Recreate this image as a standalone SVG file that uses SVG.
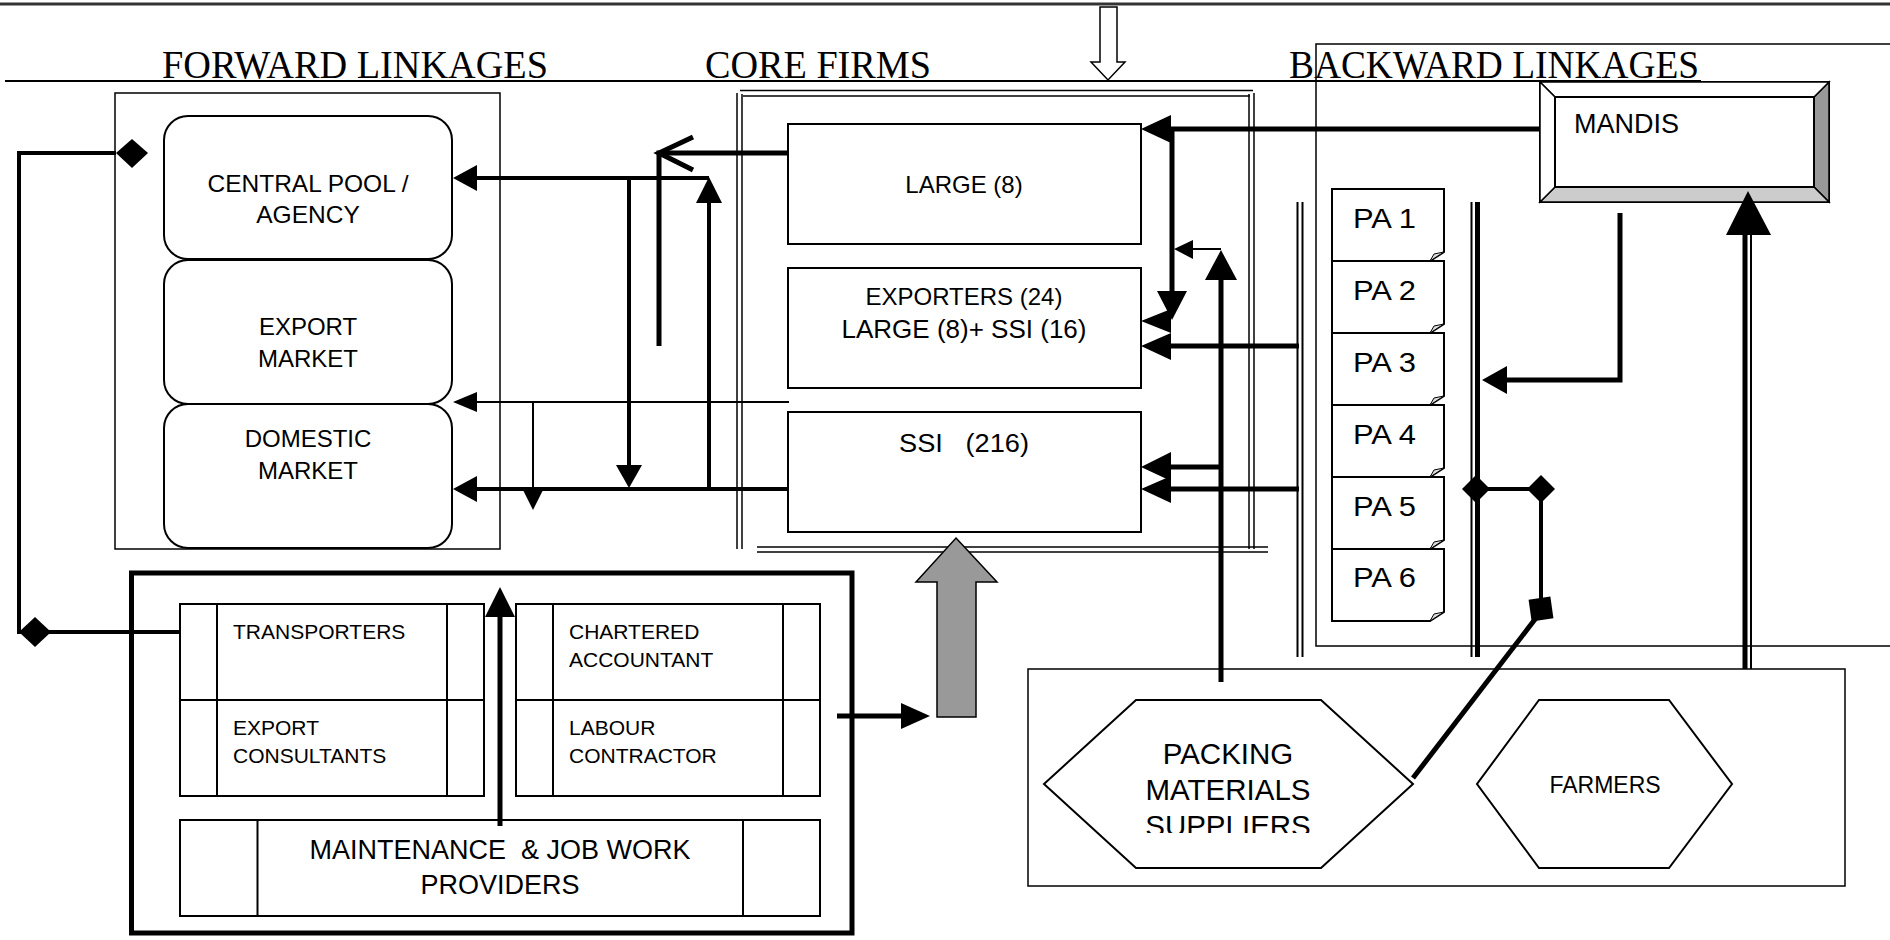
<svg xmlns="http://www.w3.org/2000/svg" width="1890" height="940" viewBox="0 0 1890 940">
<style>
.title{font-family:"Liberation Serif","Times New Roman",serif;font-size:40px;fill:#000}
.lbl{font-family:"Liberation Sans",Arial,sans-serif;fill:#000}
.box{fill:#fff;stroke:#000;stroke-width:2}
.thin{fill:none;stroke:#000;stroke-width:1.5}
.c2{fill:none;stroke:#000;stroke-width:2}
.c4{fill:none;stroke:#000;stroke-width:4}
.c5{fill:none;stroke:#000;stroke-width:5}
.ah{fill:#000;stroke:none}
</style>
<defs>
<clipPath id="packClip"><rect x="1080" y="700" width="300" height="133"/></clipPath>
</defs>
<rect width="1890" height="940" fill="#fff"/>

<!-- page lines -->
<line x1="0" y1="4" x2="1890" y2="4" stroke="#333" stroke-width="3"/>
<line x1="5" y1="81" x2="1701" y2="81" stroke="#000" stroke-width="2"/>
<polygon points="1100,7 1117,7 1117,62 1125,62 1108,80 1091,62 1100,62" fill="#fff" stroke="#000" stroke-width="1.5"/>

<text class="title" x="162" y="78" textLength="386" lengthAdjust="spacingAndGlyphs">FORWARD LINKAGES</text>
<text class="title" x="705" y="78" textLength="226" lengthAdjust="spacingAndGlyphs">CORE FIRMS</text>
<text class="title" x="1289" y="78" textLength="410" lengthAdjust="spacingAndGlyphs">BACKWARD LINKAGES</text>

<!-- forward linkages -->
<g id="forward-linkages">
<rect x="115" y="93" width="385" height="456" class="thin" fill="none"/>
<g id="central-pool">
<rect x="164" y="116" width="288" height="143" rx="24" ry="24" class="box"/>
<text class="lbl" font-size="24.5" text-anchor="middle" x="308" y="192">CENTRAL POOL /</text>
<text class="lbl" font-size="24.5" text-anchor="middle" x="308" y="223">AGENCY</text>
</g>
<g id="export-market">
<rect x="164" y="260" width="288" height="144" rx="24" ry="24" class="box"/>
<text class="lbl" font-size="24" text-anchor="middle" x="308" y="335">EXPORT</text>
<text class="lbl" font-size="24" text-anchor="middle" x="308" y="367">MARKET</text>
</g>
<g id="domestic-market">
<rect x="164" y="404" width="288" height="144" rx="24" ry="24" class="box"/>
<text class="lbl" font-size="24" text-anchor="middle" x="308" y="447">DOMESTIC</text>
<text class="lbl" font-size="24" text-anchor="middle" x="308" y="479">MARKET</text>
</g>
</g>

<!-- core firms -->
<g id="core-firms">
<line x1="740" y1="90.5" x2="1253" y2="90.5" class="thin"/>
<line x1="743" y1="96" x2="1250" y2="96" class="thin"/>
<line x1="737" y1="93" x2="737" y2="549" class="thin"/>
<line x1="742" y1="94" x2="742" y2="549" class="thin"/>
<line x1="1249" y1="94" x2="1249" y2="549" class="thin"/>
<line x1="1254" y1="93" x2="1254" y2="549" class="thin"/>
<line x1="757" y1="547" x2="1268" y2="547" class="thin"/>
<line x1="757" y1="552" x2="1268" y2="552" class="thin"/>
<g id="large">
<rect x="788" y="124" width="353" height="120" class="box"/>
<text class="lbl" font-size="24" text-anchor="middle" x="964" y="193">LARGE (8)</text>
</g>
<g id="exporters">
<rect x="788" y="268" width="353" height="120" class="box"/>
<text class="lbl" font-size="24" text-anchor="middle" x="964" y="305">EXPORTERS (24)</text>
<text class="lbl" font-size="25" text-anchor="middle" x="964" y="338" textLength="245" lengthAdjust="spacingAndGlyphs">LARGE (8)+ SSI (16)</text>
</g>
<g id="ssi">
<rect x="788" y="412" width="353" height="120" class="box"/>
<text class="lbl" font-size="25.5" text-anchor="middle" x="964" y="452" xml:space="preserve" style="white-space:pre" textLength="130" lengthAdjust="spacingAndGlyphs">SSI   (216)</text>
</g>
</g>

<!-- backward linkages -->
<g id="backward-linkages">
<polyline points="1890,44 1316,44 1316,646 1890,646" class="thin"/>
<g id="mandis">
<rect x="1540" y="82" width="289" height="120" fill="#fff" stroke="#000" stroke-width="2"/>
<polygon points="1829,82 1829,202 1814,187 1814,97" fill="#999" stroke="#000" stroke-width="1.5"/>
<polygon points="1540,202 1829,202 1814,187 1555,187" fill="#ccc" stroke="#000" stroke-width="1.5"/>
<polygon points="1540,82 1829,82 1814,97 1555,97" fill="#fff" stroke="#000" stroke-width="1.5"/>
<polygon points="1540,82 1555,97 1555,187 1540,202" fill="#fff" stroke="#000" stroke-width="1.5"/>
<rect x="1555" y="97" width="259" height="90" fill="#fff" stroke="#000" stroke-width="2"/>
<text class="lbl" font-size="27" x="1574" y="133">MANDIS</text>
</g>
<g id="pa1"><path d="M1332,189 H1444 V252 L1430,261 H1332 Z" class="box" stroke-width="1.5"/><polygon points="1430,261 1434,254 1444,252" fill="#ddd" stroke="#000" stroke-width="1"/><text class="lbl" font-size="28" x="1353" y="228" textLength="63" lengthAdjust="spacingAndGlyphs">PA 1</text></g>
<g id="pa2"><path d="M1332,261 H1444 V324 L1430,333 H1332 Z" class="box" stroke-width="1.5"/><polygon points="1430,333 1434,326 1444,324" fill="#ddd" stroke="#000" stroke-width="1"/><text class="lbl" font-size="28" x="1353" y="300" textLength="63" lengthAdjust="spacingAndGlyphs">PA 2</text></g>
<g id="pa3"><path d="M1332,333 H1444 V396 L1430,405 H1332 Z" class="box" stroke-width="1.5"/><polygon points="1430,405 1434,398 1444,396" fill="#ddd" stroke="#000" stroke-width="1"/><text class="lbl" font-size="28" x="1353" y="372" textLength="63" lengthAdjust="spacingAndGlyphs">PA 3</text></g>
<g id="pa4"><path d="M1332,405 H1444 V468 L1430,477 H1332 Z" class="box" stroke-width="1.5"/><polygon points="1430,477 1434,470 1444,468" fill="#ddd" stroke="#000" stroke-width="1"/><text class="lbl" font-size="28" x="1353" y="444" textLength="63" lengthAdjust="spacingAndGlyphs">PA 4</text></g>
<g id="pa5"><path d="M1332,477 H1444 V540 L1430,549 H1332 Z" class="box" stroke-width="1.5"/><polygon points="1430,549 1434,542 1444,540" fill="#ddd" stroke="#000" stroke-width="1"/><text class="lbl" font-size="28" x="1353" y="516" textLength="63" lengthAdjust="spacingAndGlyphs">PA 5</text></g>
<g id="pa6"><path d="M1332,549 H1444 V612 L1430,621 H1332 Z" class="box" stroke-width="1.5"/><polygon points="1430,621 1434,614 1444,612" fill="#ddd" stroke="#000" stroke-width="1"/><text class="lbl" font-size="28" x="1353" y="587" textLength="63" lengthAdjust="spacingAndGlyphs">PA 6</text></g>
</g>

<!-- suppliers -->
<g id="suppliers">
<rect x="1028" y="669" width="817" height="217" class="thin" fill="none"/>
<g id="packing-materials">
<polygon points="1136,700 1321,700 1413,784 1321,868 1136,868 1044,784" class="box" stroke-width="1.5"/>
<g clip-path="url(#packClip)">
<text class="lbl" font-size="29.5" text-anchor="middle" x="1228" y="764">PACKING</text>
<text class="lbl" font-size="29.5" text-anchor="middle" x="1228" y="800">MATERIALS</text>
<text class="lbl" font-size="29.5" text-anchor="middle" x="1228" y="836">SUPPLIERS</text>
</g>
</g>
<g id="farmers">
<polygon points="1539,700 1669,700 1732,784 1669,868 1539,868 1477,784" class="box" stroke-width="1.5"/>
<text class="lbl" font-size="23" text-anchor="middle" x="1605" y="793">FARMERS</text>
</g>
</g>

<!-- services -->
<g id="services">
<rect x="131.5" y="573" width="720.5" height="360" fill="none" stroke="#000" stroke-width="5"/>
<g id="transporters-export-consultants">
<rect x="180" y="604" width="304" height="192" class="box"/>
<line x1="180" y1="700" x2="484" y2="700" class="c2"/>
<line x1="217" y1="604" x2="217" y2="796" class="c2"/>
<line x1="447" y1="604" x2="447" y2="796" class="c2"/>
<text class="lbl" font-size="21" x="233" y="639">TRANSPORTERS</text>
<text class="lbl" font-size="21" x="233" y="735">EXPORT</text>
<text class="lbl" font-size="21" x="233" y="763">CONSULTANTS</text>
</g>
<g id="chartered-labour">
<rect x="516" y="604" width="304" height="192" class="box"/>
<line x1="516" y1="700" x2="820" y2="700" class="c2"/>
<line x1="553" y1="604" x2="553" y2="796" class="c2"/>
<line x1="783" y1="604" x2="783" y2="796" class="c2"/>
<text class="lbl" font-size="21" x="569" y="639">CHARTERED</text>
<text class="lbl" font-size="21" x="569" y="667">ACCOUNTANT</text>
<text class="lbl" font-size="21" x="569" y="735">LABOUR</text>
<text class="lbl" font-size="21" x="569" y="763">CONTRACTOR</text>
</g>
<g id="maintenance">
<rect x="180" y="820" width="640" height="96" class="box"/>
<line x1="257.5" y1="820" x2="257.5" y2="916" class="c2"/>
<line x1="743" y1="820" x2="743" y2="916" class="c2"/>
<text class="lbl" font-size="27" text-anchor="middle" x="500" y="859" xml:space="preserve" style="white-space:pre">MAINTENANCE  &amp; JOB WORK</text>
<text class="lbl" font-size="27" text-anchor="middle" x="500" y="894">PROVIDERS</text>
</g>
</g>

<!-- connectors -->
<g id="connectors">
<!-- left loop -->
<path d="M116,153 H19 V632 H180" class="c4"/>
<polygon points="116,153 132,139 148,153 132,168" class="ah"/>
<polygon points="19,632 35,617 51,632 35,647" class="ah"/>
<!-- LARGE to chevron -->
<path d="M787,153 H659 V346" class="c5"/>
<polyline points="693,137 659,153 693,170" fill="none" stroke="#000" stroke-width="5"/>
<!-- to central pool -->
<path d="M709,489 V203" class="c4"/>
<polygon points="709,177 696,203 722,203" class="ah"/>
<path d="M709,178 H477" class="c4"/>
<polygon points="453,178 477,165 477,191" class="ah"/>
<path d="M629,178 V466" class="c4"/>
<polygon points="629,488 616,465 642,465" class="ah"/>
<!-- domestic -->
<path d="M787,489 H477" class="c4"/>
<polygon points="453,489 477,476 477,502" class="ah"/>
<!-- export (thin) -->
<path d="M789,402 H477" class="c2"/>
<polygon points="453,402 477,392 477,412" class="ah"/>
<path d="M533,402 V489" class="c2"/>
<polygon points="533,510 522,488 544,488" class="ah"/>
<!-- mandis to large -->
<path d="M1540,129 H1171" class="c5"/>
<polygon points="1141,129 1171,115 1171,143" class="ah"/>
<path d="M1172,129 V292" class="c5"/>
<polygon points="1172,320 1157,291 1187,291" class="ah"/>
<polygon points="1141,321 1171,309 1171,333" class="ah"/>
<path d="M1299,346 H1171" class="c5"/>
<polygon points="1141,346 1171,333 1171,360" class="ah"/>
<!-- packing up -->
<path d="M1221,249 H1193" class="c2"/>
<polygon points="1174,249 1193,240 1193,259" class="ah"/>
<path d="M1221,682 V279" class="c5"/>
<polygon points="1221,250 1205,280 1237,280" class="ah"/>
<!-- to SSI -->
<path d="M1219,467 H1171" class="c5"/>
<polygon points="1141,467 1171,452 1171,481" class="ah"/>
<path d="M1299,489 H1171" class="c5"/>
<polygon points="1141,489 1171,476 1171,503" class="ah"/>
<!-- PA bars -->
<line x1="1297.5" y1="202" x2="1297.5" y2="657" class="c2"/>
<line x1="1302.5" y1="202" x2="1302.5" y2="657" class="c2"/>
<line x1="1471.5" y1="202" x2="1471.5" y2="657" class="c2"/>
<line x1="1477.5" y1="202" x2="1477.5" y2="657" class="c5"/>
<!-- mandis down to PA bar -->
<path d="M1620,213 V380 H1506" class="c5"/>
<polygon points="1482,380 1507,366 1507,394" class="ah"/>
<!-- diamonds to packing -->
<path d="M1476,489 H1541 V600" class="c4"/>
<polygon points="1462,489 1476,475 1490,489 1476,503" class="ah"/>
<polygon points="1527,489 1541,475 1555,489 1541,503" class="ah"/>
<rect x="1530" y="598" width="22" height="22" class="ah" transform="rotate(-8 1541 609)"/>
<path d="M1536,618 L1413,778" class="c5"/>
<!-- farmers to mandis -->
<line x1="1745" y1="669" x2="1745" y2="234" class="c5"/>
<line x1="1751" y1="669" x2="1751" y2="234" class="c2"/>
<polygon points="1748,191 1726,235 1771,235" class="ah"/>
<!-- services to core -->
<path d="M500,826 V616" class="c5"/>
<polygon points="500,587 485,617 515,617" class="ah"/>
<path d="M837,716 H903" class="c5"/>
<polygon points="930,716 901,703 901,729" class="ah"/>
<polygon points="956,538 997,582 976,582 976,717 937,717 937,582 916,582" fill="#999" stroke="#000" stroke-width="1.5"/>
</g>
</svg>
